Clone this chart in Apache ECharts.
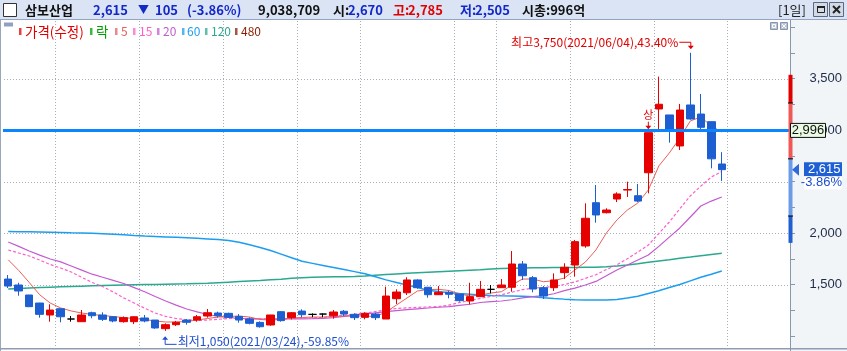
<!DOCTYPE html>
<html><head><meta charset="utf-8">
<script src="https://cdn.jsdelivr.net/npm/echarts@6/dist/echarts.min.js"></script>
<style>html,body{margin:0;padding:0;background:#fff;overflow:hidden}#c{width:847px;height:351px}</style>
</head><body><div id="c"></div>
<script>
// ---------- data ----------
const categories = [
 '2021/03/03','2021/03/04','2021/03/05','2021/03/08','2021/03/09','2021/03/10','2021/03/11','2021/03/12','2021/03/15','2021/03/16',
 '2021/03/17','2021/03/18','2021/03/19','2021/03/22','2021/03/23','2021/03/24','2021/03/25','2021/03/26','2021/03/29','2021/03/30',
 '2021/03/31','2021/04/01','2021/04/02','2021/04/05','2021/04/06','2021/04/07','2021/04/08','2021/04/09','2021/04/12','2021/04/13',
 '2021/04/14','2021/04/15','2021/04/16','2021/04/19','2021/04/20','2021/04/21','2021/04/22','2021/04/23','2021/04/26','2021/04/27',
 '2021/04/28','2021/04/29','2021/04/30','2021/05/03','2021/05/04','2021/05/06','2021/05/07','2021/05/10','2021/05/11','2021/05/12',
 '2021/05/13','2021/05/14','2021/05/17','2021/05/18','2021/05/20','2021/05/21','2021/05/24','2021/05/25','2021/05/26','2021/05/27',
 '2021/05/28','2021/05/31','2021/06/01','2021/06/02','2021/06/03','2021/06/04','2021/06/07','2021/06/08','2021/06/09',
 '2021/06/10','2021/06/11','2021/06/14','2021/06/15','2021/06/16','2021/06/17'];
const openVals  = [1553,1495,1398,1320,1204,1265,1165,1139,1226,1204,1187,1139,1139,1175,1155,1071,1110,1155,1155,1194,1223,1220,1190,1165,1132,1107,1236,1178,1242,1210,1213,1197,1240,1210,1181,1213,1165,1362,1420,1544,1473,1401,1424,1408,1340,1382,1453,1469,1473,1699,1566,1469,1469,1615,1689,1874,2294,2197,2330,2417,2362,2585,3204,3146,2845,3243,3155,3081,2670];
const closeVals = [1485,1437,1285,1210,1252,1187,1165,1204,1197,1162,1146,1178,1187,1146,1078,1110,1133,1133,1187,1226,1197,1181,1155,1123,1090,1204,1149,1226,1207,1210,1213,1233,1213,1178,1220,1178,1388,1427,1544,1469,1401,1424,1405,1343,1382,1453,1453,1495,1699,1585,1456,1388,1544,1667,1916,2143,2175,2223,2379,2422,2310,2974,3250,3007,3194,3107,3026,2720,2615];
const lowVals   = [1466,1391,1280,1178,1139,1133,1139,1139,1172,1146,1133,1130,1116,1133,1070,1050,1097,1110,1139,1178,1180,1178,1129,1113,1081,1100,1139,1162,1181,1181,1181,1168,1194,1155,1162,1155,1165,1311,1398,1459,1372,1401,1366,1333,1307,1382,1414,1469,1430,1544,1424,1359,1437,1553,1576,1857,2100,2190,2300,2350,2300,2385,3000,2877,2806,3100,3010,2628,2505];
const highVals  = [1592,1517,1400,1322,1308,1268,1194,1252,1236,1230,1190,1190,1190,1204,1155,1123,1146,1165,1204,1262,1236,1226,1213,1181,1142,1204,1242,1233,1259,1220,1220,1252,1252,1220,1230,1226,1479,1453,1570,1550,1473,1485,1440,1408,1517,1534,1495,1553,1825,1728,1582,1485,1608,1706,1932,2288,2466,2240,2395,2498,2476,2974,3518,3146,3253,3750,3350,3081,2785];
const ma5   = [1740,1636,1520,1400,1320,1272,1243,1223,1209,1199,1189,1178,1170,1160,1146,1136,1136,1141,1155,1170,1184,1189,1194,1184,1160,1155,1160,1175,1180,1184,1184,1189,1194,1194,1194,1189,1233,1301,1369,1437,1451,1453,1442,1408,1388,1398,1417,1430,1495,1553,1553,1527,1537,1563,1641,1718,1835,2000,2126,2223,2291,2418,2651,2777,2922,3088,3126,3039,2981];
const ma15  = [1835,1806,1777,1737,1694,1660,1621,1570,1520,1480,1427,1370,1320,1270,1223,1190,1170,1158,1150,1155,1162,1170,1170,1168,1166,1165,1166,1168,1172,1176,1180,1190,1200,1212,1223,1238,1252,1267,1273,1278,1282,1286,1300,1325,1345,1365,1385,1400,1425,1450,1465,1472,1480,1500,1525,1560,1595,1645,1690,1750,1815,1883,1995,2107,2235,2360,2455,2544,2597];
const ma20  = [1913,1870,1825,1785,1748,1720,1680,1640,1600,1570,1540,1510,1470,1430,1383,1340,1300,1262,1235,1209,1192,1180,1170,1168,1166,1165,1165,1166,1167,1168,1170,1178,1190,1202,1213,1225,1236,1247,1256,1264,1272,1279,1286,1297,1308,1325,1333,1340,1352,1370,1382,1392,1410,1440,1465,1495,1530,1585,1641,1690,1738,1786,1870,1960,2049,2155,2262,2310,2350];
const ma60  = [2015,2013,2012,2010,2008,2005,2002,2000,1997,1993,1988,1982,1975,1970,1966,1962,1958,1953,1948,1942,1936,1928,1910,1885,1860,1830,1795,1760,1725,1705,1685,1665,1645,1625,1605,1575,1545,1520,1495,1470,1445,1432,1420,1412,1405,1398,1393,1390,1388,1385,1380,1372,1364,1358,1353,1350,1349,1350,1355,1368,1385,1412,1440,1470,1500,1535,1570,1600,1631];
const ma120 = [1456,1460,1466,1470,1474,1478,1481,1484,1487,1490,1493,1495,1497,1499,1501,1503,1505,1507,1510,1513,1518,1523,1528,1533,1538,1545,1552,1560,1566,1570,1573,1575,1576,1578,1582,1590,1597,1603,1609,1614,1619,1624,1629,1634,1639,1644,1650,1655,1658,1660,1662,1663,1664,1665,1666,1667,1668,1672,1680,1690,1702,1716,1728,1740,1754,1766,1780,1792,1803];
const gridBreaks = [5,13,21,28,34,43,47,54,62,69];
const yGridValues = [1500,2000,2500,3000,3500];
const refLine = 2996;
const sideBarLevels = [3536,3262,2720,2165,1904];
const prevClose = 2720;
const volumeText = '9,038,709';
const capText = '996억';
const stockName = '삼보산업';
const legendItems = [
  ['가격(수정)','#e00000'],['락','#00a000'],['5','#e06060'],['15','#ff5fc8'],
  ['20','#c45ad0'],['60','#1c9df0'],['120','#2aa890'],['480','#8b1c00']];

// ---------- chart ----------
const fmt = v => Number(v).toLocaleString('en-US');
const chart = echarts.init(document.getElementById('c'), null, {renderer:'canvas', width:847, height:351});
const AX = '#8797ae', GRIDC = '#a6b0bd';
const lineS = (name, data, color, width, type) => ({
  type:'line', name, data, xAxisIndex:0, yAxisIndex:0, symbol:'none', smooth:false, z:2,
  lineStyle:{color, width, type}, silent:true
});
chart.setOption({
  animation:false,
  backgroundColor:'#ffffff',
  grid:[{left:3,right:57,top:27,bottom:15}],
  xAxis:[
    {type:'category',data:categories,boundaryGap:true,axisLine:{show:false},axisTick:{show:false},axisLabel:{show:false},splitLine:{show:false}}
  ],
  yAxis:[
    {type:'value',position:'right',min:1000,max:4000,interval:500,
     axisLine:{show:true,lineStyle:{color:AX}},
     axisTick:{show:true,length:5,lineStyle:{color:AX}},
     minorTick:{show:true,splitNumber:2,length:5,lineStyle:{color:AX}},
     splitLine:{show:false},
     axisLabel:{formatter:v=>(v>=1500&&v<=3500)?fmt(v):'',color:'#1f2b48',fontSize:13,fontFamily:'Liberation Sans',align:'right',margin:52}}
  ],
  series:[
    lineS('120',ma120,'#2aa890',1.5,'solid'),
    lineS('60',ma60,'#1c9df0',1.5,'solid'),
    lineS('20',ma20,'#c45ad0',1.2,'solid'),
    lineS('15',ma15,'#ff5fc8',1.2,[3,2]),
    lineS('5',ma5,'#e8605a',1,'solid'),
    {type:'candlestick',barWidth:8,z:3,silent:true,
     data:openVals.map((o,i)=>[o,closeVals[i],lowVals[i],highVals[i]]),
     itemStyle:{color:'#e60000',color0:'#1d5fd1',borderColor:'#e60000',borderColor0:'#1d5fd1',borderColorDoji:'#000000',borderWidth:1}},
    {type:'line',data:categories.map(()=>null),z:10,symbol:'none',
     markLine:{silent:true,symbol:'none',animation:false,data:[{yAxis:refLine}],
       lineStyle:{color:'#0a84ff',width:3,type:'solid'},label:{show:false}}}
  ]
});

// ---------- annotations (positions from the chart's own scales) ----------
const P = (i,v) => chart.convertToPixel({xAxisIndex:0,yAxisIndex:0},[i,v]);
const KR = '"Noto Sans CJK KR", sans-serif';
const g = [];
const T = (x,y,text,fill,font,align,extra) => g.push(Object.assign({type:'text',z:100,style:{x,y,text,fill,font,textAlign:align||'left',textVerticalAlign:'middle'}},extra||{}));
const R = (x,y,w,h,style,z) => g.push({type:'rect',z:(z===undefined?100:z),shape:{x,y,width:w,height:h},style});
const L = (pts,stroke,lw,z) => g.push({type:'polyline',z:(z===undefined?100:z),shape:{points:pts},style:{stroke,lineWidth:lw||1,fill:null}});
const PG = (pts,fill) => g.push({type:'polygon',z:100,shape:{points:pts},style:{fill}});
// dotted grid line built from small dot rects (crisp 1px dots)
const dotsH = (y,x0,x1) => { for(let x=x0;x<x1;x+=3) g.push({type:'rect',z:1,silent:true,shape:{x,y,width:1,height:1},style:{fill:GRIDC}}); };
const dotsV = (x,y0,y1) => { for(let y=y0;y<y1;y+=3) g.push({type:'rect',z:1,silent:true,shape:{x,y,width:1,height:1},style:{fill:GRIDC}}); };

// backgrounds / frame
R(790.5,20,57,331,{fill:'#f2f5f8'},-1);
R(0,0,847,19,{fill:'#dae4f5'},1);
L([[0,19.5],[847,19.5]],'#93a5c1',1,1);
L([[0.5,20],[0.5,351]],'#9aa8bb',1,1);
L([[0,348.8],[847,348.8]],'#8e9db2',1.5,1);
L([[790.5,20],[790.5,351]],AX,1,1);

// grid: horizontal at price levels, vertical at category boundaries (both from the chart scales)
const bw = P(1,0)[0]-P(0,0)[0];
yGridValues.forEach(v=>{ dotsH(Math.round(P(0,v)[1]), 4, 790); });
gridBreaks.forEach(k=>{ dotsV(Math.round(P(k,0)[0]-bw/2), 21, 348); });

// header
const B = 'bold 13px '+KR, BL='#1428c8', RD='#e00000';
R(3.5,3.5,13,13,{fill:'#fff',stroke:'#333',lineWidth:1});
T(25,10,stockName,'#111',B);
const last = closeVals[closeVals.length-1];
const chg = last - prevClose;
T(93,10,fmt(last),BL,B);
T(138,10,chg<0?'▼':'▲',BL,'bold 11px '+KR);
T(155,10,fmt(Math.abs(chg)),BL,B);
T(187,10,'('+(chg/prevClose*100).toFixed(2)+'%)',BL,B);
T(258,10,volumeText,'#111',B);
T(333,10,'시:','#111',B); T(348,10,fmt(openVals[openVals.length-1]),BL,B);
T(393,10,'고:',RD,B); T(408,10,fmt(highVals[highVals.length-1]),RD,B);
T(460,10,'저:',BL,B); T(475,10,fmt(lowVals[lowVals.length-1]),BL,B);
T(522,10,'시총:'+capText,'#111',B);
T(778,10,'[1일]','#222','13px '+KR);
R(813.5,2.5,14,14,{fill:'#d3dae5',stroke:'#5a6a80',lineWidth:1});
R(817.5,6.5,7,6,{fill:'none',stroke:'#222',lineWidth:1});
R(817,6,8,2,{fill:'#222'});
R(829.5,2.5,14,14,{fill:'#d3dae5',stroke:'#5a6a80',lineWidth:1});
L([[833,6],[840,13]],'#222',2); L([[840,6],[833,13]],'#222',2);

// small plot icons
R(770.5,22.5,7,7,{fill:'#b9c4d4',stroke:'#8896ad',lineWidth:1});
R(772.5,24.5,3,3,{fill:'none',stroke:'#fff',lineWidth:1});
R(780.5,22.5,7,7,{fill:'#b9c4d4',stroke:'#8896ad',lineWidth:1});
L([[782,24],[786,28]],'#fff',1); L([[786,24],[782,28]],'#fff',1);

// legend row
R(4,22.5,9,4,{fill:'#8fa1bf'});
const legX = [[19,25],[90,96],[115,121],[133,139],[157,163],[182,187],[205,211],[235,241]];
legendItems.forEach((it,k)=>{
  R(legX[k][0],28,2.5,7,{fill:it[1],opacity:0.75});
  const isKr = /[가-힣]/.test(it[0]);
  T(legX[k][1],31.5,it[0],it[1],(isKr?'13.5px ':'12px ')+KR);
});

// max / min annotations
let iMax=0,iMin=0;
highVals.forEach((v,i)=>{if(v>highVals[iMax])iMax=i;});
lowVals.forEach((v,i)=>{if(v<lowVals[iMin])iMin=i;});
const pct = v => ((v-last)/last*100).toFixed(2)+'%';
const pm = P(iMax,highVals[iMax]);
T(pm[0]-12,pm[1]-10,'최고'+fmt(highVals[iMax])+'('+categories[iMax]+'),'+pct(highVals[iMax]),RD,'12px '+KR,'right');
L([[pm[0]-11,pm[1]-10.5],[pm[0]+0.5,pm[1]-10.5],[pm[0]+0.5,pm[1]-6]],RD,1);
PG([[pm[0]-2.5,pm[1]-7],[pm[0]+3.5,pm[1]-7],[pm[0]+0.5,pm[1]-3.5]],RD);
const pn = P(iMin,lowVals[iMin]);
T(pn[0]+12,pn[1]+11,'최저'+fmt(lowVals[iMin])+'('+categories[iMin]+'),'+pct(lowVals[iMin]),'#1f4fcf','12px '+KR,'left');
L([[pn[0]-0.5,pn[1]+8],[pn[0]-0.5,pn[1]+13.5],[pn[0]+11,pn[1]+13.5]],'#1f4fcf',1);
PG([[pn[0]-3.5,pn[1]+9],[pn[0]+2.5,pn[1]+9],[pn[0]-0.5,pn[1]+5.5]],'#1f4fcf');

// upper-limit marker on the limit-up candle
const iUp = 61;
const pu = P(iUp,highVals[iUp]);
T(pu[0],pu[1]-17.5,'상',RD,'11px '+KR,'center');
L([[pu[0],pu[1]-11],[pu[0],pu[1]-6]],RD,1);
PG([[pu[0]-3,pu[1]-7],[pu[0]+3,pu[1]-7],[pu[0],pu[1]-3.5]],RD);

// right side: range bar
const sbColors = ['#e00000','#f05858','#6c9be8','#1f5fd0'];
for(let k=0;k<4;k++){
  const y1 = P(0,sideBarLevels[k])[1], y2 = P(0,sideBarLevels[k+1])[1];
  R(788.5,y1,4,y2-y1,{fill:sbColors[k]},99);
  if(k>0) L([[788,y1],[793,y1]],'#000',1);
}
// reference line label
const yr = P(0,refLine)[1];
R(790.5,yr-7,35,14,{fill:'#eafbe4',stroke:'#111',lineWidth:1});
T(808,yr,fmt(refLine),'#111','13px "Liberation Sans"','center');
// current price label
const yc = P(0,last)[1];
PG([[792,yc],[799,yc-6],[799,yc+6]],'#2d6ad8');
R(804,yc-7.5,38,14,{fill:'#1f5fd4'});
T(840.5,yc-0.5,fmt(last),'#fff','13px "Liberation Sans"','right');
R(804,yc+6.5,38,13,{fill:'#fff'});
T(842,yc+13,(chg/prevClose*100).toFixed(2)+'%','#1f4fcf','13px "Liberation Sans"','right');

chart.setOption({graphic:{elements:g}});
</script>
</body></html>
